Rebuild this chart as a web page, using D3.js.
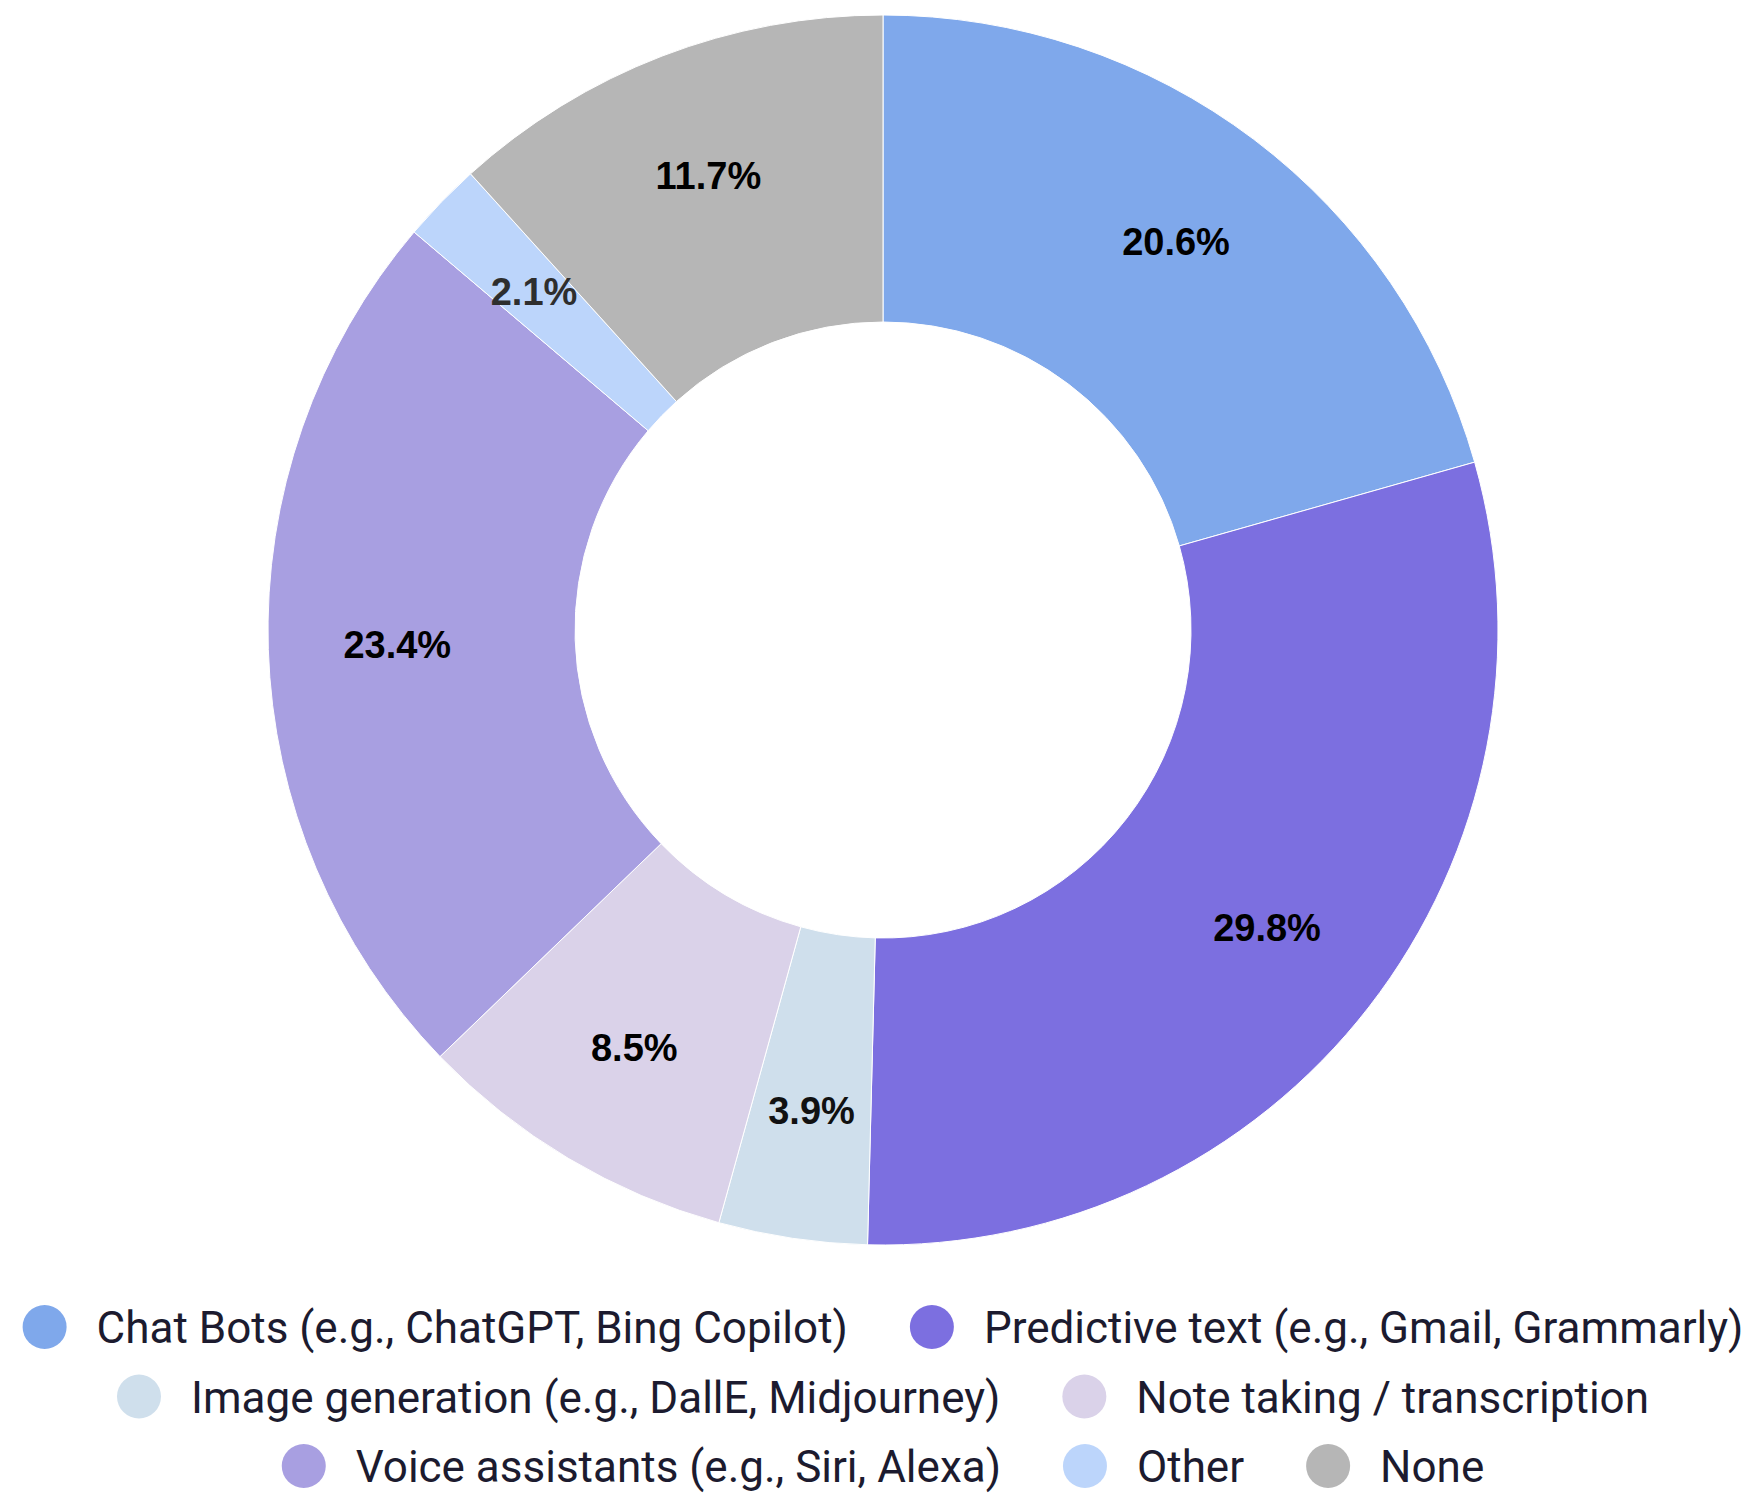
<!DOCTYPE html>
<html>
<head>
<meta charset="utf-8">
<script src="https://cdn.jsdelivr.net/npm/d3@7"></script>
<style>
  html, body { margin: 0; padding: 0; background: #ffffff; }
  svg { display: block; }
</style>
</head>
<body>
<svg id="chart" width="1751" height="1493"></svg>
<script>
// Share of respondents by AI tool type (percent)
const categories = [
  "Chat Bots (e.g., ChatGPT, Bing Copilot)",
  "Predictive text (e.g., Gmail, Grammarly)",
  "Image generation (e.g., DallE, Midjourney)",
  "Note taking / transcription",
  "Voice assistants (e.g., Siri, Alexa)",
  "Other",
  "None"
];
const values = [20.6, 29.8, 3.9, 8.5, 23.4, 2.1, 11.7];
const colors = ["#7fa8eb", "#7c6fe0", "#cfdfec", "#dad2e9", "#a89fe1", "#bcd5fb", "#b6b6b6"];
const labelColors = ["#000", "#000", "#111", "#000", "#000", "#2e2e2e", "#000"];
// Legend rows, as indices into categories
const legendRows = [[0, 1], [2, 3], [4, 5, 6]];

const W = 1751, H = 1493;
const cx = 883, cy = 630;
const rOuter = 615, rInner = 308, rLabel = 486;

const svg = d3.select("#chart");
const data = categories.map((c, i) => ({ name: c, value: values[i], color: colors[i], lc: labelColors[i] }));

const pie = d3.pie().value(d => d.value).sort(null);
const arc = d3.arc().innerRadius(rInner).outerRadius(rOuter);
const labelArc = d3.arc().innerRadius(rLabel).outerRadius(rLabel);

const g = svg.append("g").attr("transform", `translate(${cx},${cy})`);
const arcs = pie(data);

g.selectAll("path.slice")
  .data(arcs)
  .join("path")
  .attr("class", "slice")
  .attr("d", arc)
  .attr("fill", d => d.data.color)
  .attr("stroke", "#ffffff")
  .attr("stroke-width", 1);

g.selectAll("text.pct")
  .data(arcs)
  .join("text")
  .attr("class", "pct")
  .attr("x", d => labelArc.centroid(d)[0])
  .attr("y", d => labelArc.centroid(d)[1])
  .attr("text-anchor", "middle")
  .attr("dominant-baseline", "central")
  .attr("font-family", "'Liberation Sans', Arial, sans-serif")
  .attr("font-weight", "bold")
  .attr("font-size", 38)
  .attr("fill", d => d.data.lc)
  .text(d => d3.format(".1f")(d.data.value) + "%");

// Legend: centred rows of dot + label
const legend = svg.append("g").attr("class", "legend");
const rowY = [1327, 1396.5, 1466];
const dotR = 22, textOff = 52, itemGap = 84;

legendRows.forEach((row, ri) => {
  const rowG = legend.append("g");
  let x = 0;
  row.forEach(i => {
    const item = rowG.append("g").attr("transform", `translate(${x},0)`);
    item.append("circle")
      .attr("cx", 0).attr("cy", rowY[ri]).attr("r", dotR)
      .attr("fill", colors[i]);
    const t = item.append("text")
      .attr("x", textOff).attr("y", rowY[ri] + 16)
      .attr("font-family", "Roboto, 'Noto Sans', sans-serif")
      .attr("font-size", 44)
      .attr("fill", "#1c1b2f")
      .text(categories[i]);
    const tw = t.node().getComputedTextLength();
    x += textOff + tw + itemGap;
  });
  const rowWidth = x - itemGap + dotR;
  const left = cx - rowWidth / 2 + dotR;
  rowG.attr("transform", `translate(${left},0)`);
});
</script>
</body>
</html>
